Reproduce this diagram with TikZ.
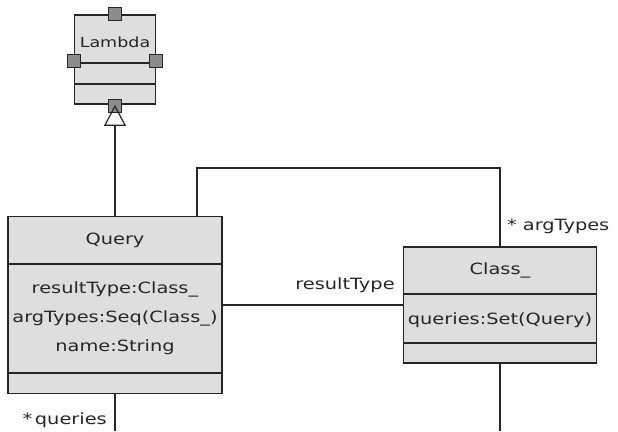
\documentclass[tikz,border=0pt]{standalone}
\usepackage{fontspec}
\setmainfont{DejaVu Sans}[FakeStretch=1.25]
\usetikzlibrary{arrows.meta,positioning,calc}
\tikzset{
    uml class/.style={
        draw=black!85,
        fill=black!13,
        line width=1.8pt,
        rectangle,
        inner sep=0pt
    },
    uml port/.style={
        draw=black!85,
        fill=black!45,
        line width=1pt,
        minimum size=13pt,
        inner sep=0pt
    },
    uml text/.style={
        font=\fontsize{15.5}{18}\selectfont,
        inner sep=0pt,
        text=black!85
    },
    uml line/.style={
        line width=1.8pt,
        black!85
    }
}

\begin{document}
\begin{tikzpicture}[x=1pt, y=-1pt]
                \useasboundingbox (0,0) rectangle (618,431);
                % classes
                \node [uml class, minimum width=81pt, minimum height=89pt] (lambda) at (115,59.5) {};
                \node [uml class, minimum width=214pt, minimum height=177pt] (query) at (115,305) {};
                \node [uml class, minimum width=193pt, minimum height=116pt] (class) at (500,305) {};
                % compartments
                \draw [uml line] (lambda.west |- 0,63) -- (lambda.east |- 0,63);
                \draw [uml line] (lambda.west |- 0,84) -- (lambda.east |- 0,84);
                \draw [uml line] (query.west |- 0,264) -- (query.east |- 0,264);
                \draw [uml line] (query.west |- 0,373) -- (query.east |- 0,373);
                \draw [uml line] (class.west |- 0,294) -- (class.east |- 0,294);
                \draw [uml line] (class.west |- 0,343) -- (class.east |- 0,343);
                % ports
                \node [uml port] (portN) at (lambda.north) {};
                \node [uml port] (portW) at (lambda.west |- 0,61) {};
                \node [uml port] (portE) at (lambda.east |- 0,61) {};
                \node [uml port] (portS) at ([yshift=-1pt]lambda.south) {};
                % texts
                \node [uml text, font=\fontsize{14}{16}\selectfont] (lambdaName) at (115,42) {Lambda};
                \node [uml text] (queryName) at (115,240) {Query};
                \node [uml text] (queryAttrA) at (115,289) {resultType:Class\_};
                \node [uml text] (queryAttrB) at (115,318) {argTypes:Seq(Class\_)};
                \node [uml text] (queryAttrC) at (115,347) {name:String};
                \node [uml text] (className) at (500,270) {Class\_};
                \node [uml text] (classAttr) at (500,320) {queries:Set(Query)};
                % associations
                \coordinate (argTop) at (0,168);
                \coordinate (queriesEnd) at (115,431);
                \coordinate (classEnd) at (500,431);
                \draw [uml line, -{Triangle[open, length=21pt, width=22pt, line width=1.2pt]}]
                    (query.north) -- (lambda.south);
                \draw [uml line] ([xshift=82pt]query.north) |- (argTop -| class.north) -- (class.north);
                \draw [uml line] (query.east) -- (class.west);
                \draw [uml line] (query.south) -- (queriesEnd);
                \draw [uml line] (class.south) -- (classEnd);
                % role names
                \node [uml text, anchor=south] (rtLabel) at (345,293) {resultType};
                \node [uml text, anchor=west] (argLabel) at (507,226) {*\hspace{6pt}argTypes};
                \node [uml text, anchor=east] (qLabel) at (107,420) {*\,queries};
            \end{tikzpicture}
\end{document}
